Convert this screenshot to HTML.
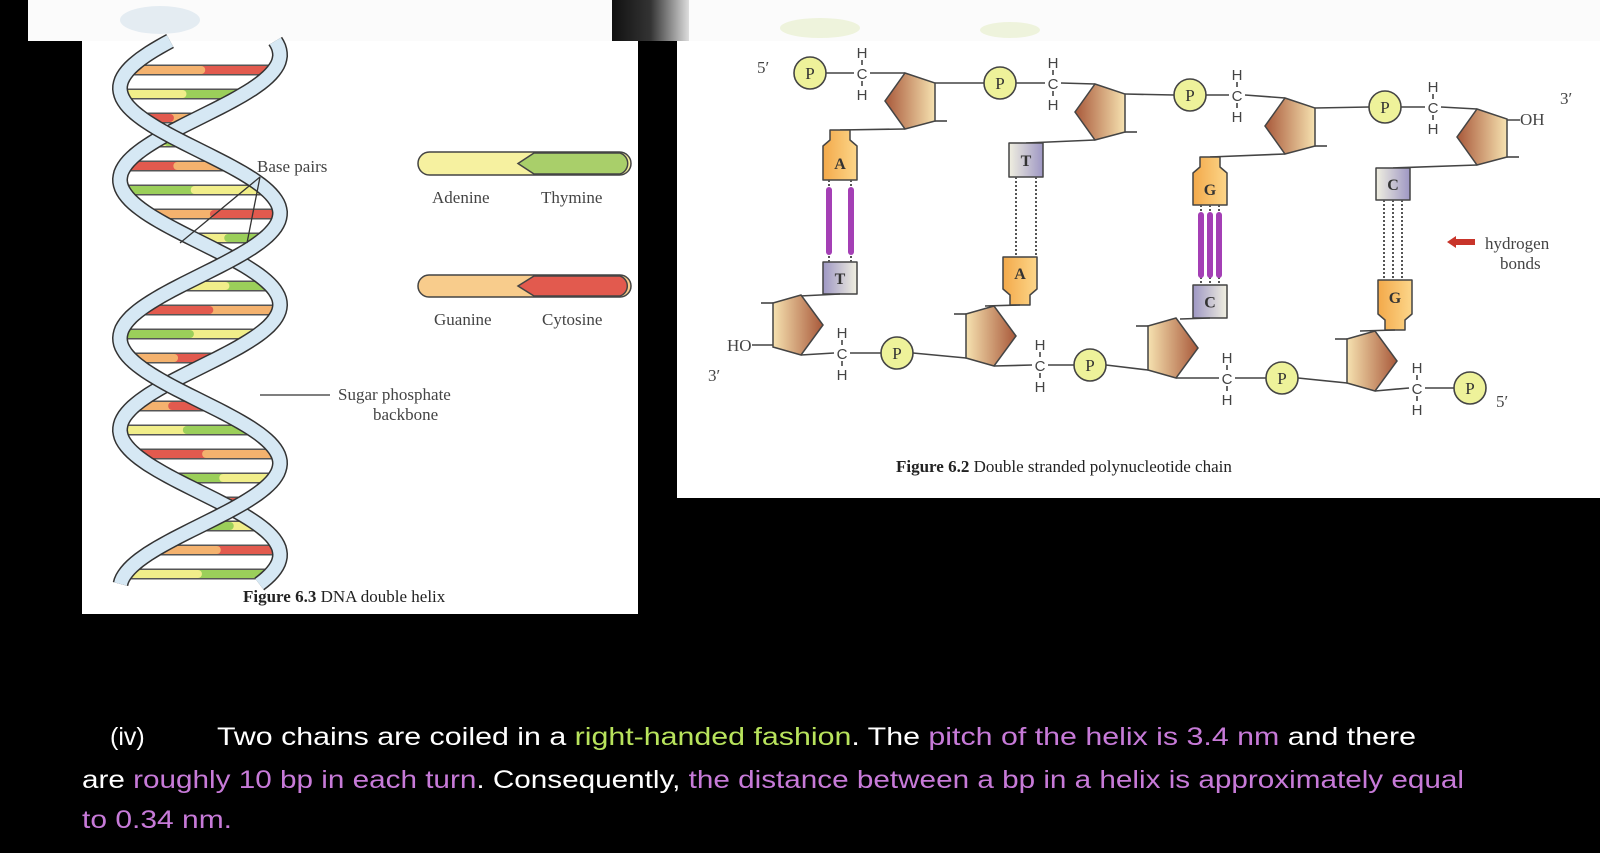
<!DOCTYPE html>
<html><head><meta charset="utf-8"><style>
html,body{margin:0;padding:0;background:#000;}
svg{display:block}
.s{font-family:"Liberation Serif",serif;fill:#444}
.t{font-family:"Liberation Sans",sans-serif;}
</style></head><body>
<svg id="sv" width="1600" height="853" viewBox="0 0 1600 853" xmlns="http://www.w3.org/2000/svg">
<defs>
<linearGradient id="pent" x1="0" y1="0" x2="1" y2="0"><stop offset="0" stop-color="#f6e2b0"/><stop offset="1" stop-color="#a8583a"/></linearGradient>
<linearGradient id="pentR" x1="1" y1="0" x2="0" y2="0"><stop offset="0" stop-color="#f6e2b0"/><stop offset="1" stop-color="#a8583a"/></linearGradient>
<linearGradient id="org" x1="0" y1="0" x2="1" y2="0"><stop offset="0" stop-color="#f3a94a"/><stop offset="1" stop-color="#fcd68a"/></linearGradient>
<linearGradient id="pur" x1="0" y1="0" x2="1" y2="0"><stop offset="0" stop-color="#9e97c4"/><stop offset="1" stop-color="#f0efe0"/></linearGradient>
<linearGradient id="purR" x1="1" y1="0" x2="0" y2="0"><stop offset="0" stop-color="#9e97c4"/><stop offset="1" stop-color="#f0efe0"/></linearGradient>
<linearGradient id="topfade" x1="0" y1="0" x2="1" y2="0"><stop offset="0" stop-color="#111"/><stop offset="0.5" stop-color="#333"/><stop offset="1" stop-color="#ddd"/></linearGradient>
</defs>
<rect width="1600" height="853" fill="#000"/>
<rect x="28" y="0" width="584" height="41" fill="#fbfbfb"/>
<rect x="612" y="0" width="77" height="41" fill="url(#topfade)"/>
<rect x="689" y="0" width="911" height="41" fill="#fbfbfb"/>
<ellipse cx="160" cy="20" rx="40" ry="14" fill="#e4ecf2"/>
<ellipse cx="820" cy="28" rx="40" ry="10" fill="#eef3dc"/>
<ellipse cx="1010" cy="30" rx="30" ry="8" fill="#eef3dc"/>
<rect x="82" y="41" width="556" height="573" fill="#fff"/>
<rect x="677" y="41" width="923" height="457" fill="#fff"/>

<g id="helix"></g>

<text class="s" x="257" y="172" font-size="17">Base pairs</text>
<line x1="260" y1="177" x2="180" y2="243" stroke="#333" stroke-width="1.3"/>
<line x1="260" y1="177" x2="247" y2="243" stroke="#333" stroke-width="1.3"/>
<line x1="260" y1="395" x2="330" y2="395" stroke="#333" stroke-width="1.3"/>
<text class="s" x="338" y="400" font-size="17">Sugar phosphate</text>
<text class="s" x="373" y="420" font-size="17">backbone</text>

<rect x="418" y="152" width="213" height="23" rx="11.5" fill="#f6f1a0" stroke="#444" stroke-width="1.5"/>
<path d="M534,153 L620,153 A11,11 0 0 1 620,174 L534,174 L518,163.5 Z" fill="#a9cf6a" stroke="#444" stroke-width="1.5"/>
<text class="s" x="432" y="203" font-size="17">Adenine</text>
<text class="s" x="541" y="203" font-size="17">Thymine</text>
<rect x="418" y="275" width="213" height="22" rx="11" fill="#f8cc8c" stroke="#444" stroke-width="1.5"/>
<path d="M534,276 L620,276 A10.5,10.5 0 0 1 620,296 L534,296 L518,286 Z" fill="#e25a4e" stroke="#444" stroke-width="1.5"/>
<text class="s" x="434" y="325" font-size="17">Guanine</text>
<text class="s" x="542" y="325" font-size="17">Cytosine</text>
<text class="s" x="243" y="602" font-size="17" style="fill:#222"><tspan font-weight="bold">Figure 6.3</tspan> DNA double helix</text>

<g id="chain"></g>

<text class="s" x="757" y="73" font-size="17">5′</text>
<text class="s" x="1560" y="104" font-size="17">3′</text>
<text class="s" x="1520" y="125" font-size="17">OH</text>
<line x1="1507" y1="120" x2="1520" y2="120" stroke="#444" stroke-width="1.5"/>
<text class="s" x="727" y="351" font-size="17">HO</text>
<line x1="752" y1="345" x2="773" y2="345" stroke="#444" stroke-width="1.5"/>
<text class="s" x="708" y="381" font-size="17">3′</text>
<text class="s" x="1496" y="407" font-size="17">5′</text>
<path d="M1447,242 L1456,236 L1456,239 L1475,239 L1475,245 L1456,245 L1456,248 Z" fill="#c8342a"/>
<text class="s" x="1485" y="249" font-size="17">hydrogen</text>
<text class="s" x="1500" y="269" font-size="17">bonds</text>
<text class="s" x="896" y="472" font-size="17" style="fill:#222"><tspan font-weight="bold">Figure 6.2</tspan> Double stranded polynucleotide chain</text>

<g class="t" font-size="25" fill="#fff">
<text x="110" y="745">(iv)</text>
<text x="217" y="745" textLength="1199" lengthAdjust="spacingAndGlyphs">Two chains are coiled in a <tspan fill="#b8e35c">right-handed fashion</tspan>. The <tspan fill="#c77ad8">pitch of the helix is 3.4 nm</tspan>  and there</text>
<text x="82" y="788" textLength="1382" lengthAdjust="spacingAndGlyphs">are <tspan fill="#c77ad8">roughly 10 bp in each turn</tspan>. Consequently, <tspan fill="#c77ad8">the distance between a bp in a helix is approximately equal</tspan></text>
<text x="82" y="828" fill="#c77ad8" textLength="150" lengthAdjust="spacingAndGlyphs">to 0.34 nm.</text>
</g>
</svg>
<script>
(function(){
var NS="http://www.w3.org/2000/svg";
function el(p,t,a,txt){var e=document.createElementNS(NS,t);for(var k in a)e.setAttribute(k,a[k]);if(txt!=null)e.textContent=txt;p.appendChild(e);return e;}
function mix(a,b){var o={};for(var k in a)o[k]=a[k];for(var k2 in b)o[k2]=b[k2];return o;}
var h=document.getElementById('helix');
function xs(y,ph){return 200+80*Math.sin(2*Math.PI*(y-40)/250+ph);}
var p1=1.2,p2=1.2+2.3;
var cols=[["#e25a4e","#f4b26e"],["#9bcf5a","#f1ee8a"],["#f4b26e","#e25a4e"],["#f1ee8a","#9bcf5a"]];
for(var y=70,i=0;y<590;y+=24,i++){
 var a=xs(y,p1),b=xs(y,p2);var m=(a+b)/2;var c=cols[i%4];
 el(h,'line',{x1:a,y1:y,x2:b,y2:y,stroke:'#555','stroke-width':11,'stroke-linecap':'round'});
 el(h,'line',{x1:a,y1:y,x2:m,y2:y,stroke:c[0],'stroke-width':8,'stroke-linecap':'round'});
 el(h,'line',{x1:m,y1:y,x2:b,y2:y,stroke:c[1],'stroke-width':8,'stroke-linecap':'round'});
}
[p1,p2].forEach(function(ph){
 var d="";for(var y=41;y<=585;y+=3){d+=(y==41?"M":"L")+xs(y,ph).toFixed(1)+","+y+" ";}
 el(h,'path',{d:d,fill:'none',stroke:'#333','stroke-width':16});
 el(h,'path',{d:d,fill:'none',stroke:'#d6e8f4','stroke-width':13});
});
var g=document.getElementById('chain');
var L={stroke:'#444','stroke-width':1.6,fill:'none'};
function line(x1,y1,x2,y2){el(g,'line',mix({x1:x1,y1:y1,x2:x2,y2:y2},L));}
function P(x,y){el(g,'circle',{cx:x,cy:y,r:16,fill:'#eef29a',stroke:'#444','stroke-width':1.6});el(g,'text',{x:x,y:y+6,'text-anchor':'middle','font-size':17,'font-family':'Liberation Serif,serif',fill:'#333'},'P');}
function C(x,y){var f={'text-anchor':'middle','font-size':15,'font-family':'Liberation Sans,sans-serif',fill:'#444'};
 el(g,'text',mix({x:x,y:y+6},f),'C');el(g,'text',mix({x:x,y:y-15},f),'H');el(g,'text',mix({x:x,y:y+27},f),'H');
 line(x,y-13,x,y-8);line(x,y+8,x,y+13);}
function pentTop(cx,cy){el(g,'polygon',{points:[cx,cy-28,cx+30,cy-18,cx+30,cy+20,cx,cy+28,cx-20,cy].join(' '),fill:'url(#pentR)',stroke:'#444','stroke-width':1.5});}
function pentBot(lx,cy){el(g,'polygon',{points:[lx,cy-22,lx+28,cy-30,lx+50,cy,lx+28,cy+30,lx,cy+22].join(' '),fill:'url(#pent)',stroke:'#444','stroke-width':1.5});}
function base(x,y1,y2,lab,neck,grad){
 var d;
 if(neck=='top'){d="M"+(x-10)+","+y1+" L"+(x+10)+","+y1+" L"+(x+10)+","+(y1+10)+" L"+(x+17)+","+(y1+16)+" L"+(x+17)+","+y2+" L"+(x-17)+","+y2+" L"+(x-17)+","+(y1+16)+" L"+(x-10)+","+(y1+10)+"Z";}
 else if(neck=='bot'){d="M"+(x-17)+","+y1+" L"+(x+17)+","+y1+" L"+(x+17)+","+(y2-16)+" L"+(x+10)+","+(y2-10)+" L"+(x+10)+","+y2+" L"+(x-10)+","+y2+" L"+(x-10)+","+(y2-10)+" L"+(x-17)+","+(y2-16)+"Z";}
 else {d="M"+(x-17)+","+y1+" L"+(x+17)+","+y1+" L"+(x+17)+","+y2+" L"+(x-17)+","+y2+"Z";}
 el(g,'path',{d:d,fill:grad,stroke:'#444','stroke-width':1.5,'stroke-linejoin':'round'});
 var ty=neck=='top'?(y1+16+y2)/2+6:neck=='bot'?(y1+y2-16)/2+6:(y1+y2)/2+6;
 el(g,'text',{x:x,y:ty,'text-anchor':'middle','font-size':16,'font-weight':'bold','font-family':'Liberation Serif,serif',fill:'#333'},lab);
}
function hb(x1,x2,y1,y2,n,purple){
 var xsA=n==2?[x1,x2]:[x1,(x1+x2)/2,x2];
 xsA.forEach(function(x){el(g,'line',{x1:x,y1:y1,x2:x,y2:y2,stroke:'#555','stroke-width':2,'stroke-dasharray':'2,2'});
  if(purple)el(g,'line',{x1:x,y1:y1+10,x2:x,y2:y2-10,stroke:'#a43fb5','stroke-width':6,'stroke-linecap':'round'});});
}
var tops=[[810,73,862,905,101],[1000,83,1053,1095,112],[1190,95,1237,1285,126],[1385,107,1433,1477,137]];
tops.forEach(function(u,i){
 var px=u[0],py=u[1],cx=u[2],pc=u[3],pcy=u[4];
 line(px+16,py,cx-8,py);line(cx+8,py,pc,pcy-28);
 pentTop(pc,pcy);
 line(pc+30,pcy+20,pc+42,pcy+20);
 if(i<3){line(pc+30,pcy-18,tops[i+1][0]-16,tops[i+1][1]);}
 P(px,py);C(cx,py);
});
line(905,129,840,130);base(840,130,180,'A','top','url(#org)');
line(1095,140,1026,143);base(1026,143,177,'T','none','url(#purR)');
line(1285,154,1210,157);base(1210,157,205,'G','top','url(#org)');
line(1477,165,1393,168);base(1393,168,200,'C','none','url(#purR)');
base(840,262,294,'T','none','url(#pur)');line(840,294,800,296);
base(1020,257,305,'A','bot','url(#org)');line(1020,305,985,306);
base(1210,285,318,'C','none','url(#pur)');line(1210,318,1180,319);
base(1395,280,330,'G','bot','url(#org)');line(1395,330,1360,331);
hb(829,851,180,262,2,true);
hb(1016,1036,177,257,2,false);
hb(1201,1219,205,285,3,true);
hb(1384,1402,200,280,3,false);
var bots=[[773,325,842,353,897],[966,336,1040,365,1090],[1148,348,1227,378,1282],[1347,361,1417,388,1470]];
bots.forEach(function(u,i){
 var lx=u[0],cy=u[1],cx=u[2],yy=u[3],px=u[4];
 pentBot(lx,cy);
 line(lx-12,cy-22,lx,cy-22);
 line(lx+28,cy+30,cx-8,yy);line(cx+8,yy,px-16,yy);
 if(i<3){line(px+16,yy,bots[i+1][0],bots[i+1][1]+22);}
 C(cx,yy);P(px,yy);
});
})();
</script>
</body></html>
